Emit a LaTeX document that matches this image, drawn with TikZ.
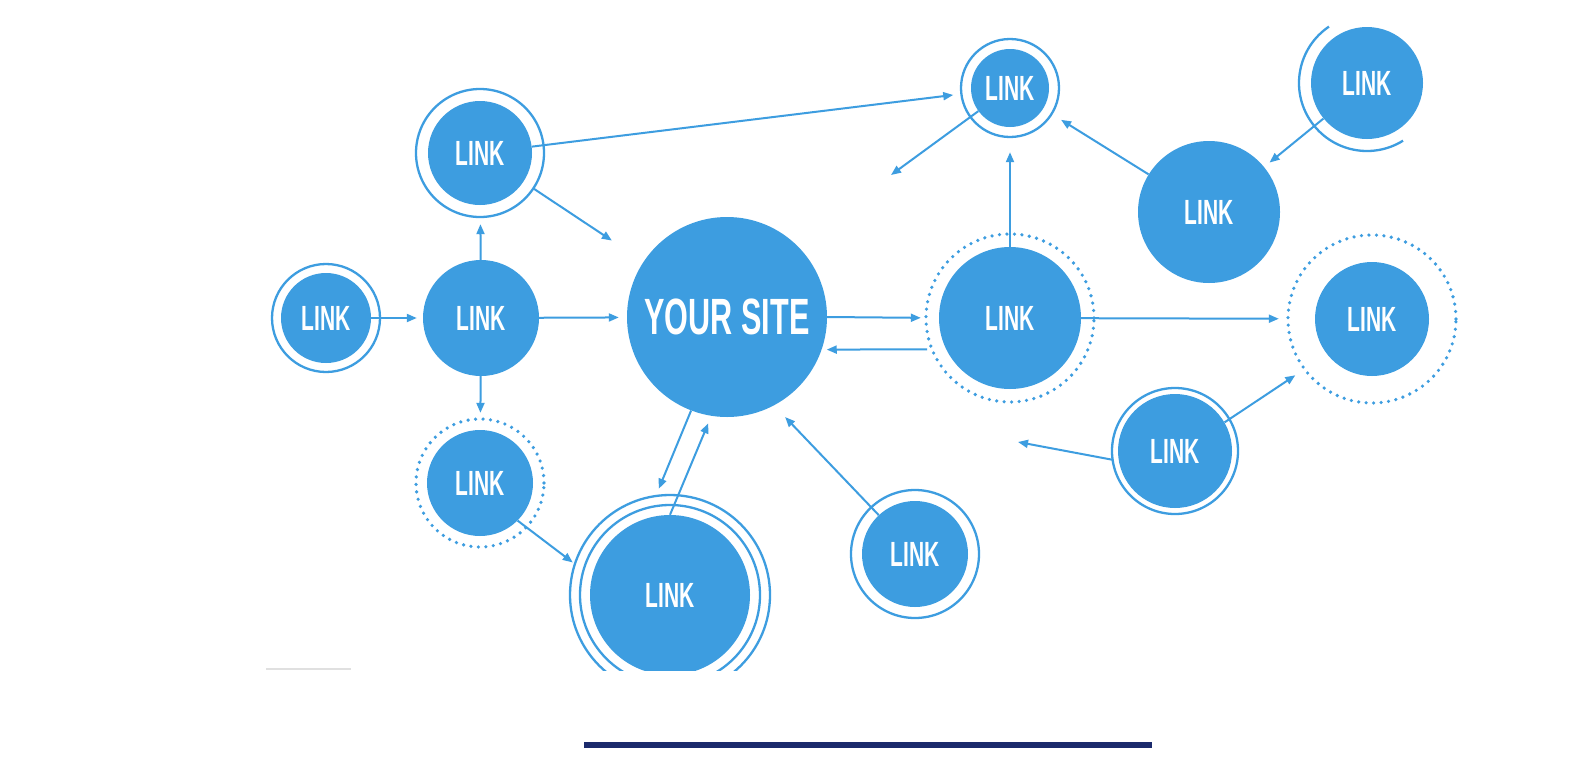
\documentclass[tikz,border=0pt]{standalone}
\usepackage{fontspec}
\newfontfamily\linkfont{Liberation Sans}[UprightFont={* Bold}, FakeStretch=0.6]
\usepackage{tikz}
\usetikzlibrary{arrows.meta}
\definecolor{linkblue}{RGB}{61,157,224}
\definecolor{barnavy}{RGB}{27,42,108}
\tikzset{
  lk node/.style={
    circle, fill=linkblue, draw=none, inner sep=0pt,
    minimum size=#1, text=white,
    font=\linkfont\fontsize{35}{35}\selectfont
  },
  lk node/.default=100pt,
  lk site/.style={
    lk node=200pt, font=\linkfont\fontsize{51}{51}\selectfont
  },
  lk ring/.style={
    draw=linkblue, line width=2.3pt
  },
  lk dots/.style={
    draw=linkblue, line width=3.6pt, line cap=round,
    dash pattern=on 0pt off 7.5pt
  },
  lk arrow/.style={
    -{Triangle[length=10pt, width=8pt]}, line width=2pt, draw=linkblue
  }
}

\begin{document}
\begin{tikzpicture}[x=1pt, y=-1pt]
  \fill[white] (0,0) rectangle (1591,766);
  \begin{scope}
  \clip (0,0) rectangle (1591,670);
  % left side
  \node (far) [lk node=90pt] at (326,318) {LINK};
  \node (tl) [lk node=104pt] at (480,153) {LINK};
  \node (hub) [lk node=116pt] at (481,318) {LINK};
  \node (ll) [lk node=106pt] at (480,483) {LINK};
  \node (site) [lk site] at (727,317) {YOUR SITE};
  \node (bot) [lk node=160pt] at (670,595) {LINK};
  \node (br) [lk node=106pt] at (915,554) {LINK};
  % right side
  \node (top) [lk node=78pt] at (1010,88) {LINK};
  \node (bigR) [lk node=142pt] at (1010,318) {LINK};
  \node (midR) [lk node=142pt] at (1209,212) {LINK};
  \node (rtop) [lk node=112pt] at (1367,83) {LINK};
  \node (rdot) [lk node=114pt] at (1372,319) {LINK};
  \node (lowR) [lk node=114pt] at (1175,451) {LINK};
  \coordinate (tfree) at (891,175);
  \coordinate (lfree) at (1018,442);

  % rings
  \draw[lk ring] (far.center) circle[radius=54pt];
  \draw[lk ring] (tl.center) circle[radius=64pt];
  \draw[lk dots] (ll.center) circle[radius=64pt];
  \draw[lk ring] (bot.center) circle[radius=90pt];
  \draw[lk ring] (bot.center) circle[radius=100pt];
  \draw[lk ring] (br.center) circle[radius=64pt];
  \draw[lk ring] (top.center) circle[radius=49pt];
  \draw[lk dots] (bigR.center) circle[radius=84pt];
  \draw[lk ring] (rtop.center) ++(-124:68) arc[start angle=-124, end angle=-302, radius=68];
  \draw[lk dots] (rdot.center) circle[radius=84pt];
  \draw[lk ring] (lowR.center) circle[radius=63pt];

  % connectors
  \draw[lk arrow, shorten >=6pt] (far) -- (hub);
  \draw[lk arrow, shorten >=8pt] (hub) -- (site);
  \draw[lk arrow, shorten >=19pt] (hub) -- (tl);
  \draw[lk arrow, shorten >=17pt] (hub) -- (ll);
  \draw[lk arrow, shorten <=12pt, shorten >=38pt] (tl) -- (site);
  \draw[lk arrow, shorten >=18pt] (tl) -- (top);
  \draw[lk arrow] (top) -- (tfree);
  \draw[lk arrow, shorten >=25pt] (bigR) -- (top);
  \draw[lk arrow, shorten >=18pt] (site.east) -- (bigR.west);
  \draw[lk arrow, shorten <=19pt, shorten >=5pt] (bigR.206) -- (site.-19);
  \draw[lk arrow, shorten >=36pt] (bigR) -- (rdot);
  \draw[lk arrow, shorten >=21pt] (midR) -- (top);
  \draw[lk arrow, shorten >=7pt] (rtop) -- (midR);
  \draw[lk arrow, shorten >=38pt] (lowR.30) -- (rdot.218);
  \draw[lk arrow, shorten <=6pt] (lowR.190) -- (lfree);
  \draw[lk arrow, shorten >=16pt] (br.133) -- (site.-62);
  \draw[lk arrow, shorten >=32pt] (site.249) -- (bot.107);
  \draw[lk arrow, shorten >=8pt] (bot.90) -- (site.261);
  \draw[lk arrow, shorten >=24pt] (ll.-45) -- (bot.167);
  \end{scope}

  \draw[black!12, line width=1.2pt] (266,669) -- (351,669);
  \fill[barnavy] (584,742) rectangle (1152,748);
\end{tikzpicture}
\end{document}
